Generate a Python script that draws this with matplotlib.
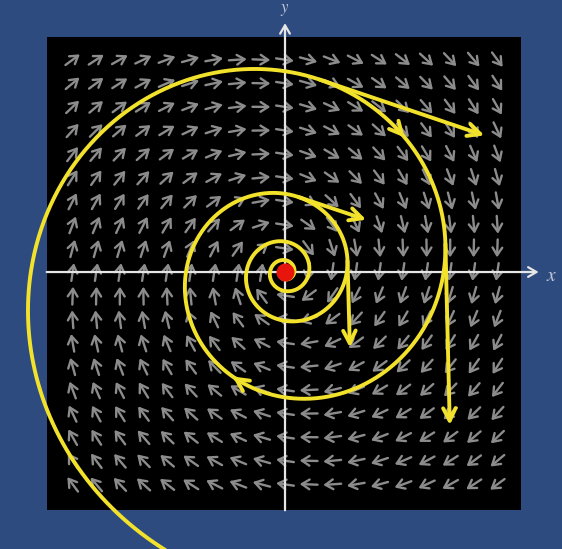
import numpy as np
import matplotlib
matplotlib.use('Agg')
import matplotlib.pyplot as plt
from matplotlib.patches import Rectangle

plt.rcParams['mathtext.fontset'] = 'stix'

# stable spiral (clockwise sink):  x' = -a x + y ,  y' = -x - a y
damping = 0.15
grid_ticks = np.arange(-9, 10)              # 19 x 19 direction field
start_point = (-1.2, -13.4)                 # trajectory comes in from bottom left
t_end = 34.0
tangent_times = [3.23, 4.45, 9.51, 10.73]   # where the straight tangent arrows leave the curve
tangent_scales = [0.88, 1.1, 0.93, 1.35]    # arrow = scale * velocity
head_times = [3.78, 6.66]                   # arrowheads drawn on the curve itself

bg_blue = '#2d4b7e'
field_gray = '#8c8c8c'
yellow = '#f2e22c'
axis_white = '#e6e6e6'


def velocity(x, y):
    return -damping * x + y, -x - damping * y


def trajectory(t):
    x0, y0 = start_point
    e = np.exp(-damping * t)
    return e * (x0 * np.cos(t) + y0 * np.sin(t)), e * (-x0 * np.sin(t) + y0 * np.cos(t))


fig = plt.figure(figsize=(5.62, 5.49), dpi=100)
fig.patch.set_facecolor(bg_blue)
ax = fig.add_axes([0, 0, 1, 1])
ax.set_xlim(-12.08, 11.74)
ax.set_ylim(-11.74, 11.53)
ax.axis('off')

# black panel
ax.add_patch(Rectangle((-10.1, -10.1), 20.1, 20.05, facecolor='black', edgecolor='none', zorder=0))

# direction field, all arrows the same length
X, Y = np.meshgrid(grid_ticks, grid_ticks)
U, V = velocity(X, Y)
N = np.hypot(U, V)
half = 0.38
for x, y, u, v, n in zip(X.ravel(), Y.ravel(), U.ravel(), V.ravel(), N.ravel()):
    dx, dy = half * u / n, half * v / n
    ax.annotate('', xy=(x + dx, y + dy), xytext=(x - dx, y - dy),
                arrowprops=dict(arrowstyle='->,head_length=0.55,head_width=0.35',
                                color=field_gray, lw=1.7, shrinkA=0, shrinkB=0),
                zorder=1)

# coordinate axes
ax.annotate('', xy=(10.75, 0), xytext=(-10.1, 0),
            arrowprops=dict(arrowstyle='->,head_length=0.6,head_width=0.35',
                            color=axis_white, lw=1.6, shrinkA=0, shrinkB=0), zorder=2)
ax.annotate('', xy=(0, 10.55), xytext=(0, -10.1),
            arrowprops=dict(arrowstyle='->,head_length=0.6,head_width=0.35',
                            color=axis_white, lw=1.6, shrinkA=0, shrinkB=0), zorder=2)
ax.text(11.3, -0.15, '$x$', color='#c4cbd9', fontsize=14, ha='center', va='center')
ax.text(0, 11.53, '$y$', color='#c4cbd9', fontsize=12, ha='center', va='top')

# trajectory
t = np.linspace(0, t_end, 4000)
tx, ty = trajectory(t)
ax.plot(tx, ty, color=yellow, lw=2.8, solid_capstyle='round', zorder=3)

# tangent (velocity) arrows
for tb, s in zip(tangent_times, tangent_scales):
    bx, by = trajectory(tb)
    vx, vy = velocity(bx, by)
    ax.annotate('', xy=(bx + s * vx, by + s * vy), xytext=(bx, by),
                arrowprops=dict(arrowstyle='->,head_length=0.9,head_width=0.45',
                                color=yellow, lw=2.8, shrinkA=0, shrinkB=0), zorder=3)

# arrowheads on the curve
for th in head_times:
    hx, hy = trajectory(th)
    px, py = trajectory(th - 0.04)
    ax.annotate('', xy=(hx, hy), xytext=(px, py),
                arrowprops=dict(arrowstyle='->,head_length=0.9,head_width=0.45',
                                color=yellow, lw=2.8, shrinkA=0, shrinkB=0), zorder=3)

# equilibrium point
ax.plot([0], [0], 'o', color='#e8150d', markersize=12, zorder=4)

fig.savefig('out.png', dpi=100, facecolor=bg_blue)
